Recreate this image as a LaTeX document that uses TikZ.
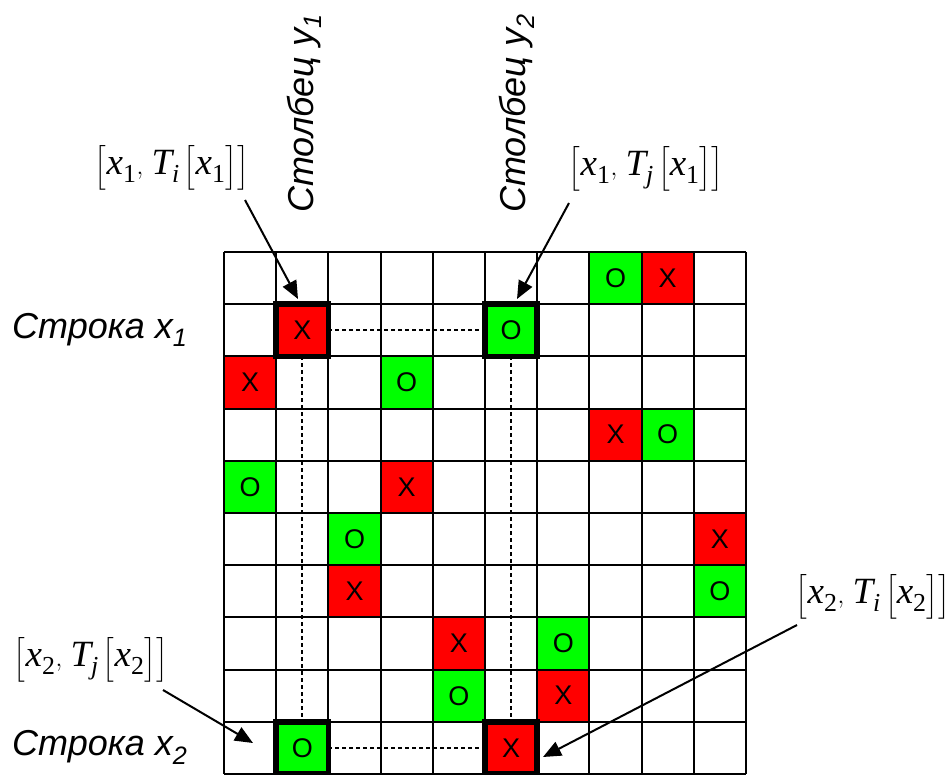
\documentclass[tikz,border=0pt]{standalone}
\usepackage{amsmath}
\usepackage{fontspec}
\setmainfont{Liberation Sans}
\newfontfamily\tnr{Liberation Serif}
\usetikzlibrary{arrows.meta}
\definecolor{cred}{RGB}{255,0,0}
\definecolor{cgreen}{RGB}{0,255,0}
\newcommand{\tv}[1]{\text{\tnr\itshape #1}}
\newcommand{\tn}[1]{\text{\tnr #1}}
\newcommand{\lbr}{\Bigl[}
\newcommand{\rbr}{\Bigr]}
\tikzset{
  cellbox/.style={draw=none, minimum width=52.2pt, minimum height=52.2pt, inner sep=0pt, outer sep=0pt, font=\fontsize{27}{30}\selectfont},
  redc/.style={cellbox, fill=cred},
  greenc/.style={cellbox, fill=cgreen},
  gridline/.style={line width=2pt, black},
  hilite/.style={line width=5.5pt, black},
  dashline/.style={line width=2pt, dash pattern=on 4pt off 3pt},
  arr/.style={line width=2pt, -{Triangle[length=18pt,width=15pt]}},
  rowlab/.style={anchor=west, inner sep=0pt, font=\fontsize{36}{40}\selectfont\itshape},
  collab/.style={rotate=90, anchor=base west, inner sep=0pt, font=\fontsize{36}{40}\selectfont\itshape},
  mathlab/.style={inner sep=0pt, font=\fontsize{37}{44}\selectfont}
}
\begin{document}
\begin{tikzpicture}[x=1pt, y=-1pt]
\useasboundingbox (0,0) rectangle (949,775);
\fill[white] (0,0) rectangle (949,775);
% cells
\foreach \r in {0,...,9}{
  \foreach \c in {0,...,9}{
    \node[cellbox] (c\r-\c) at ({224+52.2*(\c+0.5)},{252+52.2*(\r+0.5)}) {};
  }
}
% coloured cells
\node[redc]   at (c0-8) {X};
\node[greenc] at (c0-7) {O};
\node[redc]   at (c1-1) {X};
\node[greenc] at (c1-5) {O};
\node[redc]   at (c2-0) {X};
\node[greenc] at (c2-3) {O};
\node[redc]   at (c3-7) {X};
\node[greenc] at (c3-8) {O};
\node[greenc] at (c4-0) {O};
\node[redc]   at (c4-3) {X};
\node[greenc] at (c5-2) {O};
\node[redc]   at (c5-9) {X};
\node[redc]   at (c6-2) {X};
\node[greenc] at (c6-9) {O};
\node[redc]   at (c7-4) {X};
\node[greenc] at (c7-6) {O};
\node[greenc] at (c8-4) {O};
\node[redc]   at (c8-6) {X};
\node[greenc] at (c9-1) {O};
\node[redc]   at (c9-5) {X};
% grid
\foreach \i in {0,...,10}{
  \draw[gridline] ({224+52.2*\i},252) -- ({224+52.2*\i},774);
  \draw[gridline] (224,{252+52.2*\i}) -- (746,{252+52.2*\i});
}
% dashed connections
\draw[dashline] (c1-1.east) -- (c1-5.west);
\draw[dashline] (c9-1.east) -- (c9-5.west);
\draw[dashline] (c1-1.south) -- (c9-1.north);
\draw[dashline] (c1-5.south) -- (c9-5.north);
% highlighted cells
\foreach \n in {c1-1,c1-5,c9-1,c9-5}{
  \draw[hilite] (\n.south west) rectangle (\n.north east);
}
% labels
\node[rowlab] (r1) at (12,330) {Строка x\textsubscript{1}};
\node[rowlab] (r2) at (12,747) {Строка x\textsubscript{2}};
\node[collab] (k1) at (313,213) {Столбец y\textsubscript{1}};
\node[collab] (k2) at (525,213) {Столбец y\textsubscript{2}};
\node[mathlab] (l1) at (172,168) {$\lbr\tv{x}_{\tn{1}},\, \tv{T}_{\tv{i}}\,\lbr\tv{x}_{\tn{1}}\rbr\rbr$};
\node[mathlab] (l2) at (646,169) {$\lbr\tv{x}_{\tn{1}},\, \tv{T}_{\tv{j}}\,\lbr\tv{x}_{\tn{1}}\rbr\rbr$};
\node[mathlab] (l3) at (91,660) {$\lbr\tv{x}_{\tn{2}},\, \tv{T}_{\tv{j}}\,\lbr\tv{x}_{\tn{2}}\rbr\rbr$};
\node[mathlab] (l4) at (873,597) {$\lbr\tv{x}_{\tn{2}},\, \tv{T}_{\tv{i}}\,\lbr\tv{x}_{\tn{2}}\rbr\rbr$};
% arrow ends
\coordinate (t1) at (298,299);
\coordinate (t2) at (517,299);
\coordinate (t3) at (253,743);
\coordinate (t4) at (543,757);
\coordinate (s1) at (245,200);
\coordinate (s2) at (569,203);
\coordinate (s3) at (163,690);
\coordinate (s4) at (797,625);
\draw[arr] (s1) -- (t1);
\draw[arr] (s2) -- (t2);
\draw[arr] (s3) -- (t3);
\draw[arr] (s4) -- (t4);
\end{tikzpicture}
\end{document}
